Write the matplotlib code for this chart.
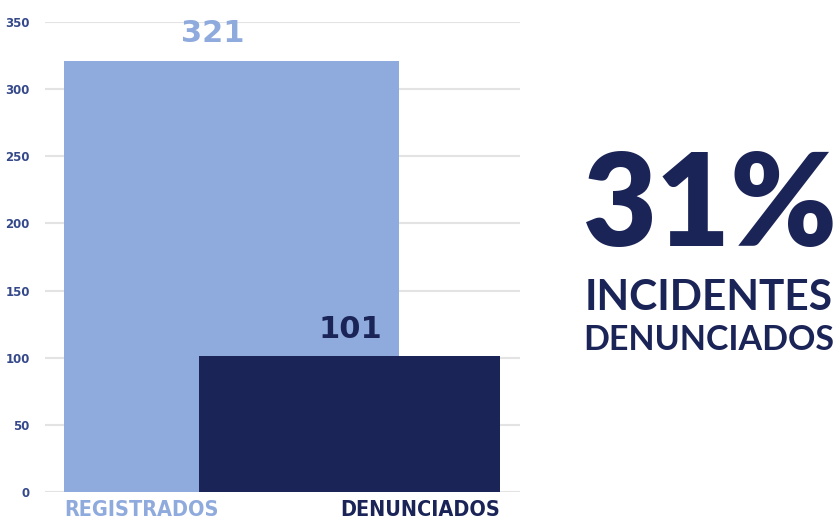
import matplotlib.pyplot as plt

# ------------------ Data ------------------
categories = ["REGISTRADOS", "DENUNCIADOS"]
values = [321, 101]
percent_label = "31%"
caption_lines = ["INCIDENTES", "DENUNCIADOS"]
yticks = [0, 50, 100, 150, 200, 250, 300, 350]

light = "#8FAADC"
navy = "#1B2457"
tick_col = "#35498A"

fig = plt.figure(figsize=(8.4, 5.22), dpi=100)
W, H = 840, 522
ax = fig.add_axes([45 / W, 30 / H, 475 / W, 470 / H])

# overlapping bars: (left, right) in axes fraction
spans = [(0.040, 0.745), (0.324, 0.958)]
colors = [light, navy]
for (l, r), v, c in zip(spans, values, colors):
    ax.bar(l, v, width=r - l, align="edge", color=c, zorder=2)

ax.set_xlim(0, 1)
ax.set_ylim(0, 350)
ax.set_yticks(yticks)
ax.grid(axis="y", color="#E3E3E3", linewidth=1.5, zorder=0)
ax.set_xticks([])
for s in ax.spines.values():
    s.set_visible(False)
ax.tick_params(axis="y", length=0, pad=11, labelsize=8.5, labelcolor=tick_col)
for t in ax.get_yticklabels():
    t.set_fontweight("bold")

# value labels over the bars
ax.text(0.353, values[0] + 10, str(values[0]), ha="center", va="bottom",
        fontsize=22, fontweight="bold", color=light)
ax.text(0.642, values[1] + 9, str(values[1]), ha="center", va="bottom",
        fontsize=22, fontweight="bold", color=navy)

# category labels under the bars
ax.text(0.040, -6, categories[0], ha="left", va="top", fontsize=15.5,
        fontweight="bold", color=light, fontstretch="condensed")
ax.text(0.958, -6, categories[1], ha="right", va="top", fontsize=15.5,
        fontweight="bold", color=navy, fontstretch="condensed")

# headline figure on the right
fig.text(710 / W, 1 - 208 / H, percent_label, ha="center", va="center",
         fontsize=92, fontweight="heavy", color=navy, family="Lato")
fig.text(709 / W, 1 - 298 / H, caption_lines[0], ha="center", va="center",
         fontsize=30.5, fontweight="bold", color=navy, family="Lato")
fig.text(709 / W, 1 - 340 / H, caption_lines[1], ha="center", va="center",
         fontsize=24.5, fontweight="bold", color=navy, family="Lato")

fig.savefig("out.png", dpi=100)
